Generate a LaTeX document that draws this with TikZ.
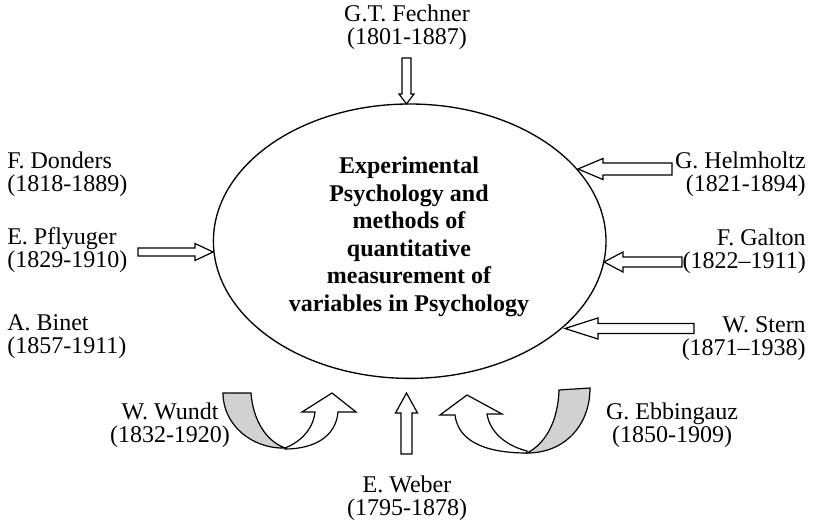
\documentclass[tikz,border=0pt]{standalone}
\usepackage{fontspec}
\setmainfont{Liberation Serif}
\usetikzlibrary{calc,shapes.geometric}
\definecolor{bandgray}{gray}{0.82}

% Block arrow: #1 tail, #2 tip, #3 shaft half-width, #4 head half-width, #5 head length
\newcommand\blockarrow[5]{%
  \path ($(#2)!#5!(#1)$) coordinate (headbase);
  \draw[outline] ($(#1)!#3!90:(#2)$) -- ($(headbase)!#3!-90:(#1)$)
    -- ($(headbase)!#4!-90:(#1)$) -- (#2) -- ($(headbase)!#4!90:(#1)$)
    -- ($(headbase)!#3!90:(#1)$) -- ($(#1)!#3!-90:(#2)$) -- cycle;}

\begin{document}
\begin{tikzpicture}[x=0.75pt,y=-0.75pt,
  lab/.style={font=\fontsize{18}{17.2}\selectfont, inner sep=0pt},
  outline/.style={draw=black, line width=0.9pt, fill=white, line join=miter},
  curve/.style={draw=black, line width=0.9pt, line join=miter},
  title/.style={font=\fontsize{18}{20.7}\selectfont\bfseries, align=center, inner sep=0pt}]
\useasboundingbox (0,0) rectangle (814,527);

% central ellipse and its caption
\node[ellipse, draw, line width=1pt, minimum width=294.45pt, minimum height=205.8pt, inner sep=0pt]
  (E) at (409.7,241.2) {};
\node[title, anchor=north] (T) at (409,156.6)
  {Experimental\\Psychology and\\methods of\\quantitative\\measurement of\\variables in Psychology};

% names and years
\node[lab, anchor=north, align=center] (fechner) at (407,4.6) {G.T. Fechner\\(1801-1887)};
\node[lab, anchor=north west, align=left] (donders) at (7,151.6) {F. Donders\\(1818-1889)};
\node[lab, anchor=north west, align=left] (pflyuger) at (7,227.6) {E. Pflyuger\\(1829-1910)};
\node[lab, anchor=north west, align=left] (binet) at (7,314.6) {A. Binet\\(1857-1911)};
\node[lab, anchor=north east, align=right] (helmholtz) at (806,151.6) {G. Helmholtz\\(1821-1894)};
\node[lab, anchor=north east, align=right] (galton) at (806,228.6) {F. Galton\\(1822–1911)};
\node[lab, anchor=north east, align=right] (stern) at (806,316.1) {W. Stern\\(1871–1938)};
\node[lab, anchor=north, align=center] (wundt) at (170,402.6) {W. Wundt\\(1832-1920)};
\node[lab, anchor=north, align=center] (ebbingauz) at (672,402.6) {G. Ebbingauz\\(1850-1909)};
\node[lab, anchor=north, align=center] (weber) at (407,475.6) {E. Weber\\(1795-1878)};

% straight block arrows pointing at the ellipse
\coordinate (fechnerTail) at (406.5,58);    \coordinate (fechnerTip) at (406.5,104);
\coordinate (weberTail) at (406.5,454);     \coordinate (weberTip) at (406.5,393);
\coordinate (pflyugerTail) at (138,252);    \coordinate (pflyugerTip) at (213,252);
\coordinate (helmholtzTail) at (672,169);   \coordinate (helmholtzTip) at (578,169);
\coordinate (galtonTail) at (682,262);      \coordinate (galtonTip) at (604,262);
\coordinate (sternTail) at (694,328.5);     \coordinate (sternTip) at (565,328.5);

\blockarrow{fechnerTail}{fechnerTip}{3.4pt}{5.6pt}{7.5pt}
\blockarrow{weberTail}{weberTip}{4.1pt}{8.25pt}{15pt}
\blockarrow{pflyugerTail}{pflyugerTip}{3pt}{6.4pt}{13.5pt}
\blockarrow{helmholtzTail}{helmholtzTip}{4.5pt}{7.9pt}{18.75pt}
\blockarrow{galtonTail}{galtonTip}{3.75pt}{7.5pt}{14.25pt}
\blockarrow{sternTail}{sternTip}{3.75pt}{7.9pt}{24.75pt}

% curved up-arrow under the left side (Wundt)
\draw[curve, fill=bandgray] (223,393) -- (251,393)
  .. controls (253,420) and (266,441) .. (285,448)
  .. controls (252,449) and (223,425) .. (223,393) -- cycle;
\draw[curve, fill=white] (285,448)
  .. controls (300,442) and (313,430) .. (315,412) -- (302,412) -- (332,393) -- (356,412) -- (338,412)
  .. controls (336,436) and (315,449) .. (285,449) -- cycle;

% curved up-arrow under the right side (Ebbingauz)
\draw[curve, fill=bandgray] (559,390) -- (590,388)
  .. controls (590,425) and (565,453) .. (527,453)
  .. controls (545,444) and (558,422) .. (559,390) -- cycle;
\draw[curve, fill=white] (527,451)
  .. controls (507,446) and (490,433) .. (487,414) -- (502,414) -- (467,395) -- (440,415) -- (455,415)
  .. controls (458,440) and (483,453) .. (527,453) -- cycle;
\end{tikzpicture}
\end{document}
